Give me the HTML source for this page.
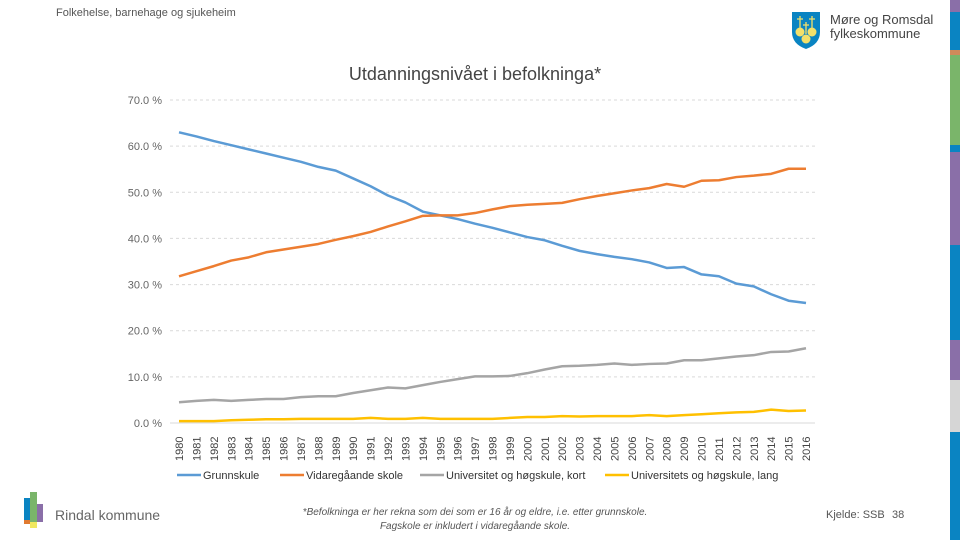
<!DOCTYPE html>
<html><head><meta charset="utf-8"><style>
body{margin:0;width:960px;height:540px;overflow:hidden;background:#fff;font-family:"Liberation Sans",sans-serif;position:relative}
.abs{position:absolute}
</style></head><body>
<div class="abs" style="left:56px;top:7px;font-size:11px;color:#555">Folkehelse, barnehage og sjukeheim</div>
<svg class="abs" style="left:790px;top:10px" width="32" height="40" viewBox="0 0 32 40">
<path d="M2 2H30V22Q30 34 16 39Q2 34 2 22Z" fill="#0a84c2"/>
<circle cx="10" cy="22" r="4.5" fill="#f3e06a"/><circle cx="22" cy="22" r="4.5" fill="#f3e06a"/><circle cx="16" cy="29" r="4.5" fill="#f3e06a"/>
<path d="M10 6V18M7 9H13M22 6V18M19 9H25M16 12V24M13 15H19" stroke="#f3e06a" stroke-width="1.3"/>
</svg>
<div class="abs" style="left:830px;top:13px;font-size:13px;line-height:14px;color:#444">Møre og Romsdal<br>fylkeskommune</div>
<div class="abs" style="left:950px;top:0;width:10px;height:540px;background:linear-gradient(#8a6fa8 0 12px,#0a84c2 12px 50px,#d08a5a 50px 55px,#7ab56a 55px 145px,#0a84c2 145px 152px,#8a6fa8 152px 245px,#0a84c2 245px 340px,#8a6fa8 340px 380px,#d6d6d6 380px 432px,#0a84c2 432px)"></div>
<svg class="abs" style="left:22px;top:492px" width="24" height="36">
<rect x="2" y="6" width="6" height="24" fill="#0a84c2"/><rect x="8" y="0" width="7" height="30" fill="#7ab56a"/><rect x="15" y="12" width="6" height="18" fill="#8a6fa8"/><rect x="2" y="28" width="6" height="4" fill="#e07a30"/><rect x="8" y="30" width="7" height="6" fill="#f0e860"/>
</svg>
<div class="abs" style="left:55px;top:507px;font-size:14px;color:#666">Rindal kommune</div>
<div class="abs" style="left:250px;top:506px;width:450px;text-align:center;font-size:10px;font-style:italic;color:#555;line-height:14px">*Befolkninga er her rekna som dei som er 16 år og eldre, i.e. etter grunnskole.<br>Fagskole er inkludert i vidaregåande skole.</div>
<div class="abs" style="left:826px;top:509px;font-size:11px;color:#555">Kjelde: SSB</div>
<div class="abs" style="left:892px;top:509px;font-size:11px;color:#555">38</div>
<svg id="chart" class="abs" style="left:0;top:0" width="950" height="500"></svg>
<script>
const years=[];for(let y=1980;y<=2016;y++)years.push(String(y));
const grunnskule=[63,62.1,61.1,60.2,59.3,58.4,57.5,56.6,55.5,54.7,53.0,51.3,49.3,47.8,45.8,45.0,44.2,43.2,42.3,41.3,40.3,39.6,38.4,37.3,36.6,36.0,35.5,34.8,33.6,33.8,32.2,31.8,30.2,29.6,27.9,26.5,26.0];
const vidaregaande=[31.8,32.9,34.0,35.2,35.9,37.0,37.6,38.2,38.8,39.7,40.5,41.4,42.6,43.7,44.9,45.0,45.0,45.5,46.3,47.0,47.3,47.5,47.7,48.5,49.2,49.8,50.4,50.9,51.8,51.2,52.5,52.6,53.3,53.6,54.0,55.1,55.1];
const uniKort=[4.5,4.8,5.0,4.8,5.0,5.2,5.2,5.6,5.8,5.8,6.5,7.1,7.7,7.5,8.2,8.9,9.5,10.1,10.1,10.2,10.8,11.6,12.3,12.4,12.6,12.9,12.6,12.8,12.9,13.6,13.6,14.0,14.4,14.7,15.4,15.5,16.2];
const uniLang=[0.4,0.4,0.4,0.6,0.7,0.8,0.8,0.9,0.9,0.9,0.9,1.1,0.9,0.9,1.1,0.9,0.9,0.9,0.9,1.1,1.3,1.3,1.5,1.4,1.5,1.5,1.5,1.7,1.5,1.7,1.9,2.1,2.3,2.4,2.9,2.6,2.7];
const yTicks=[0,10,20,30,40,50,60,70];
const seriesNames=["Grunnskule","Vidaregåande skole","Universitet og høgskule, kort","Universitets og høgskule, lang"];
const colors=["#5b9bd5","#ed7d31","#a5a5a5","#ffc000"];
const NS="http://www.w3.org/2000/svg",svg=document.getElementById('chart');
const x=i=>179+i*(806-179)/(years.length-1), y=v=>423-v*(323/70);
function mk(t,a,p){const e=document.createElementNS(NS,t);for(const k in a)e.setAttribute(k,a[k]);(p||svg).appendChild(e);return e;}
const title=mk('text',{x:475,y:80,'text-anchor':'middle','font-size':18,fill:'#444'});title.textContent='Utdanningsnivået i befolkninga*';


yTicks.forEach(t=>{
 if(t>0){const g=mk('line',{x1:170,x2:815,y1:y(t),y2:y(t),stroke:'#d9d9d9','stroke-dasharray':'3,3'});
 
 }
 const l=mk('text',{x:162,y:y(t)+4,'text-anchor':'end','font-size':11,fill:'#666'});l.textContent=t.toFixed(1)+' %';
 
 
});
const ax=mk('line',{x1:170,x2:815,y1:423,y2:423,stroke:'#d9d9d9'});


years.forEach((yr,i)=>{const t=mk('text',{transform:`translate(${x(i)+4},461) rotate(-90)`,'font-size':11,fill:'#444'});t.textContent=yr;
 
 });
[grunnskule,vidaregaande,uniKort,uniLang].forEach((s,k)=>{
 const p=mk('polyline',{points:s.map((v,i)=>x(i)+','+y(v)).join(' '),fill:'none',stroke:colors[k],'stroke-width':2.5,'stroke-linejoin':'round'});
 
 
});
const lx=[177,280,420,605];
seriesNames.forEach((n,k)=>{
 const g=mk('g',{});
 
 
 mk('line',{x1:lx[k],x2:lx[k]+24,y1:475,y2:475,stroke:colors[k],'stroke-width':2.5},g);
 const t=mk('text',{x:lx[k]+26,y:479,'font-size':11,fill:'#333'},g);t.textContent=n;
});
</script>
</body></html>
